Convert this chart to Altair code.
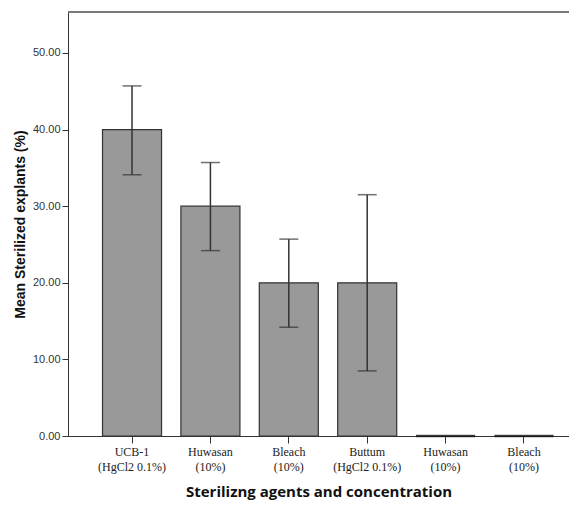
import json
import altair as alt
import pandas as pd

# ---- data ----
ids = ["g1", "g2", "g3", "g4", "g5", "g6"]
label_line1 = ["UCB-1", "Huwasan", "Bleach", "Buttum", "Huwasan", "Bleach"]
label_line2 = ["(HgCl2 0.1%)", "(10%)", "(10%)", "(HgCl2 0.1%)", "(10%)", "(10%)"]
means = [40.0, 30.0, 20.0, 20.0, 0.0, 0.0]
err_low = [34.1, 24.2, 14.2, 8.5, None, None]
err_high = [45.7, 35.7, 25.7, 31.5, None, None]
y_ticks = [0, 10, 20, 30, 40, 50]

df = pd.DataFrame({"id": ids, "mean": means, "lo": err_low, "hi": err_high})
df_err = df.dropna()

label_map = {i: [a, b] for i, a, b in zip(ids, label_line1, label_line2)}
label_expr = json.dumps(label_map) + "[datum.value]"

x_scale = alt.Scale(paddingInner=0.247, paddingOuter=0.319, align=0.69)
y_scale = alt.Scale(domain=[0, 55.35], nice=False)

x_enc = alt.X(
    "id:N",
    sort=ids,
    scale=x_scale,
    title="Sterilizng agents and concentration",
    axis=alt.Axis(
        labelExpr=label_expr,
        labelAngle=0,
        labelFont="Liberation Serif",
        labelFontSize=12,
        labelColor="#222222",
        labelPadding=3,
        labelLineHeight=15,
        tickSize=7,
        tickColor="#333333",
        domainColor="#333333",
        titleFont="Open Sans",
        titleFontWeight="bold",
        titleFontSize=15,
        titleColor="#111111",
        titlePadding=12,
    ),
)

bars = alt.Chart(df).mark_bar(
    fill="#999999", stroke="#333333", strokeWidth=1.2
).encode(
    x=x_enc,
    y=alt.Y(
        "mean:Q",
        scale=y_scale,
        title="Mean Sterilized explants (%)",
        axis=alt.Axis(
            values=y_ticks,
            format=".2f",
            grid=False,
            tickSize=6,
            tickColor="#333333",
            domainColor="#333333",
            labelFont="Liberation Sans",
            labelFontSize=11,
            labelColor="#333333",
            labelPadding=2,
            titleFont="Liberation Sans",
            titleFontWeight="bold",
            titleFontSize=14,
            titleColor="#111111",
            titlePadding=5,
        ),
    ),
)

zero_bars = alt.Chart(df).transform_filter("datum.mean == 0").mark_tick(
    color="#111111", thickness=2.5, size=59, orient="horizontal"
).encode(
    x=alt.X("id:N", sort=ids, scale=x_scale),
    y=alt.Y("mean:Q", scale=y_scale),
)

err_rule = alt.Chart(df_err).mark_rule(color="#333333", strokeWidth=1.5).encode(
    x=alt.X("id:N", sort=ids, scale=x_scale),
    y=alt.Y("lo:Q", scale=y_scale),
    y2="hi:Q",
)

cap_lo = alt.Chart(df_err).mark_tick(
    color="#333333", thickness=1.5, size=19, orient="horizontal"
).encode(
    x=alt.X("id:N", sort=ids, scale=x_scale),
    y=alt.Y("lo:Q", scale=y_scale),
)
cap_hi = alt.Chart(df_err).mark_tick(
    color="#333333", thickness=1.5, size=19, orient="horizontal"
).encode(
    x=alt.X("id:N", sort=ids, scale=x_scale),
    y=alt.Y("hi:Q", scale=y_scale),
)

top_line = alt.Chart(df.head(1)).mark_rule(color="#7a7a7a", strokeWidth=2).encode(
    y=alt.value(0),
)

chart = (
    alt.layer(bars, zero_bars, err_rule, cap_lo, cap_hi, top_line)
    .properties(
        width=501,
        height=424,
        autosize=alt.AutoSizeParams(type="none"),
        padding={"left": 60, "top": 4, "right": 0, "bottom": 70},
    )
    .configure_view(fill="#f0f0f0", stroke=None)
    .configure(background="white")
)

chart.save("out.html", embed_options={"renderer": "svg", "actions": False})
